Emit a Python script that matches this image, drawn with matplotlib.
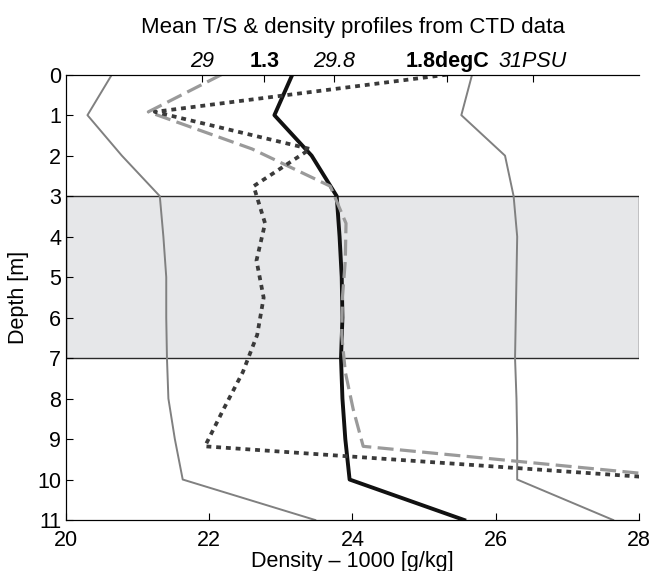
import matplotlib
matplotlib.use('Agg')
import matplotlib.pyplot as plt

plt.rcParams['font.family'] = ['Liberation Sans', 'DejaVu Sans']

# ---- data (x positions in density-axis units) ----
depth_std = [0, 1, 2, 3, 4, 5, 6, 7, 8, 9, 10, 11]
dens_min = [20.64, 20.30, 20.78, 21.31, 21.36, 21.40, 21.40, 21.41, 21.43, 21.52, 21.63, 23.48]
dens_max = [25.67, 25.52, 26.13, 26.25, 26.30, 26.29, 26.28, 26.27, 26.29, 26.30, 26.30, 27.64]
dens_mean = [23.16, 22.91, 23.43, 23.78, 23.82, 23.85, 23.86, 23.84, 23.86, 23.90, 23.96, 25.56]

depth_ts = [0.0, 0.918, 1.836, 2.754, 3.672, 4.59, 5.508, 6.426, 7.344, 8.262, 9.18, 10.1]
salinity_scaled = [22.17, 21.15, 22.60, 23.69, 23.91, 23.90, 23.86, 23.85, 23.90, 24.01, 24.15, 29.50]
temp_scaled = [25.32, 21.24, 23.41, 22.62, 22.78, 22.66, 22.76, 22.67, 22.47, 22.20, 21.94, 29.40]

top_tick_pos = [21.90, 22.77, 23.74, 25.32, 26.52]
top_tick_labels = ['29', '1.3', '29.8', '1.8degC', '31PSU']
top_tick_kind = ['S', 'T', 'S', 'T', 'S']

band = (3, 7)

fig = plt.figure(figsize=(6.5, 5.71), dpi=100)
ax = fig.add_axes([0.1015, 0.0893, 0.8815, 0.7799])

ax.axhspan(band[0], band[1], facecolor='#e6e7e9', edgecolor='#2a2a2a', linewidth=1.0, zorder=0)

ax.plot(dens_min, depth_std, color='#808080', lw=1.4, zorder=2)
ax.plot(dens_max, depth_std, color='#808080', lw=1.4, zorder=2)
ax.plot(dens_mean, depth_std, color='#111111', lw=2.8, zorder=3)
ax.plot(salinity_scaled, depth_ts, color='#9a9a9a', lw=2.3, linestyle=(0, (5, 2)),
        dash_capstyle='butt', zorder=4)
ax.plot(temp_scaled, depth_ts, color='#3a3a3a', lw=2.7, linestyle=(0, (1.3, 1.3)),
        dash_capstyle='butt', zorder=5)

ax.set_xlim(20, 28)
ax.set_ylim(11, 0)
ax.set_xticks(range(20, 29, 2))
ax.set_yticks(range(0, 12))
ax.spines['right'].set_visible(False)
ax.tick_params(direction='in', length=5, labelsize=15.5, top=False, right=False)
ax.tick_params(axis='x', pad=7)
ax.tick_params(axis='y', pad=3.5)
ax.set_xlabel('Density \u2013 1000 [g/kg]', fontsize=15.5, labelpad=0)
ax.set_ylabel('Depth [m]', fontsize=15.5, labelpad=6)

ax2 = ax.twiny()
ax2.set_xlim(ax.get_xlim())
ax2.spines['right'].set_visible(False)
ax2.set_xticks(top_tick_pos)
ax2.set_xticklabels(top_tick_labels)
ax2.tick_params(direction='in', length=5, labelsize=15.5, pad=2)
for lab, kind in zip(ax2.get_xticklabels(), top_tick_kind):
    if kind == 'S':
        lab.set_fontstyle('italic')
    else:
        lab.set_fontweight('bold')

fig.text(0.5425, 1 - 33 / 571, 'Mean T/S & density profiles from CTD data', ha='center',
         va='baseline', fontsize=16)

fig.savefig('out.png', dpi=100)
